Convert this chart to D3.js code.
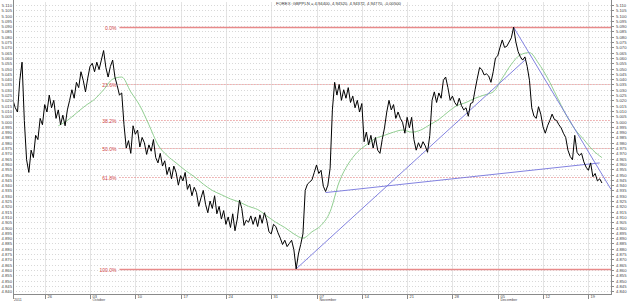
<!DOCTYPE html>
<html>
<head>
<meta charset="utf-8">
<script src="https://cdn.jsdelivr.net/npm/d3@7"></script>
<style>
  body { margin: 0; background: #fff; }
  svg text { font-family: "Liberation Sans", Arial, sans-serif; }
</style>
</head>
<body>
<svg id="chart" width="640" height="302"></svg>
<script>
// ---- data ----
let title = 'FOREX: GBPPLN = 4.94400, 4.94520, 4.94372, 4.94770, -0.00500';

// 4 bars per trading day, first bar = 21 Sep 2011
let barsPerDay = 4;
let price = [
  5.020, 5.013, 5.009, 5.039, 5.056, 5.001, 4.964, 4.952, 4.973, 4.966,
  4.987, 4.983, 5.003, 4.997, 5.016, 5.009, 5.025, 5.013, 5.020, 5.003,
  5.011, 4.997, 5.006, 4.996, 5.011, 5.020, 5.030, 5.022, 5.037, 5.032,
  5.047, 5.039, 5.028, 5.041, 5.052, 5.055, 5.047, 5.056, 5.049, 5.058,
  5.067, 5.051, 5.042, 5.052, 5.058, 5.042, 5.034, 5.025, 5.027, 4.997,
  4.975, 4.982, 4.970, 4.996, 4.988, 4.992, 4.976, 4.985, 4.980, 4.969,
  4.978, 4.972, 4.983, 4.966, 4.961, 4.970, 4.958, 4.963, 4.950, 4.957,
  4.946, 4.958, 4.952, 4.940, 4.949, 4.944, 4.952, 4.936, 4.941, 4.930,
  4.938, 4.933, 4.920, 4.928, 4.935, 4.922, 4.914, 4.925, 4.918, 4.930,
  4.913, 4.920, 4.908, 4.916, 4.903, 4.910, 4.900, 4.913, 4.897, 4.908,
  4.926, 4.918, 4.902, 4.907, 4.905, 4.911, 4.903, 4.910, 4.901, 4.912,
  4.904, 4.914, 4.907, 4.896, 4.894, 4.903, 4.901, 4.895, 4.890, 4.884,
  4.888, 4.882, 4.885, 4.888, 4.879, 4.861, 4.875, 4.884, 4.894, 4.935,
  4.941, 4.943, 4.945, 4.952, 4.959, 4.951, 4.954, 4.939, 4.934, 4.940,
  4.956, 5.011, 5.037, 5.025, 5.035, 5.020, 5.030, 5.022, 5.032, 5.018,
  5.024, 5.013, 5.020, 5.009, 5.017, 4.981, 4.990, 4.978, 4.987, 4.975,
  4.985, 4.973, 4.970, 4.983, 4.994, 5.009, 5.020, 5.011, 5.016, 5.003,
  5.009, 5.003, 4.999, 4.989, 5.004, 4.994, 5.004, 4.983, 4.973, 4.980,
  4.975, 4.981, 4.977, 4.971, 4.987, 5.020, 5.028, 5.018, 5.027, 5.022,
  5.039, 5.042, 5.032, 5.020, 5.024, 5.018, 5.015, 5.022, 5.015, 5.011,
  5.013, 5.005, 5.017, 5.018, 5.030, 5.041, 5.051, 5.049, 5.044, 5.045,
  5.043, 5.037, 5.047, 5.060, 5.062, 5.070, 5.077, 5.070, 5.071, 5.075,
  5.079, 5.089, 5.075, 5.066, 5.061, 5.058, 5.061, 5.052, 5.039, 5.013,
  5.005, 5.003, 5.014, 5.007, 4.995, 4.989, 4.996, 5.001, 5.007, 5.002,
  5.001, 4.997, 4.994, 4.989, 4.985, 4.973, 4.967, 4.964, 4.987, 4.971,
  4.968, 4.970, 4.962, 4.957, 4.954, 4.961, 4.948, 4.951, 4.944, 4.946,
  4.942
];

// moving average, one value per trading day starting at bar 20
let maStart = 20;
let maStep = 4;
let movingAvg = [
  4.996, 5.001, 5.008, 5.015, 5.021, 5.030, 5.040, 5.042, 5.028, 5.015,
  4.997, 4.978, 4.968, 4.961, 4.954, 4.948, 4.941, 4.935, 4.931, 4.927,
  4.924, 4.920, 4.917, 4.911, 4.905, 4.900, 4.894, 4.890, 4.896, 4.902,
  4.915, 4.943, 4.960, 4.971, 4.978, 4.984, 4.987, 4.990, 4.992, 4.990,
  4.992, 4.997, 5.002, 5.009, 5.015, 5.018, 5.022, 5.025, 5.028, 5.041,
  5.054, 5.063, 5.065, 5.055, 5.041, 5.024, 5.007, 4.993, 4.983, 4.973,
  4.966
];

// trend lines: [bar from, price from, bar to, price to]
let trendLines = [
  [125, 4.861, 226, 5.058],
  [138, 4.933, 259, 4.961],
  [221, 5.089, 264, 4.936]
];

// fibonacci retracement
let fibHigh = 5.089;
let fibLow = 4.861;
let fibStartBar = 47;
let fibLevels = [0, 23.6, 38.2, 50, 61.8, 100];

// x axis (trading days from start)
let dayTicks = [3.5, 8.5, 13.5, 18.5, 23.5, 28.5, 33.5, 38.5, 43.5, 48.5, 53.5, 58.5, 63.5];
let dayLabels = ['26', '03', '10', '17', '24', '31', '07', '14', '21', '28', '05', '12', '19'];
let monthLabels = ['', 'October', '', '', '', '', 'November', '', '', '', 'December', '', ''];
let yearLabel = '2011';
let totalDays = 66;

// y axis
let yMin = 4.8373, yMax = 5.1128;
let yTickFrom = 4.840, yTickTo = 5.110, yTickStep = 0.005;

// ---- drawing ----
let plotLeft = 13, plotRight = 611, plotTop = 2, plotBottom = 294;
let svg = d3.select('#chart');

let x = d3.scaleLinear().domain([0, totalDays * barsPerDay]).range([plotLeft, plotRight]);
let y = d3.scaleLinear().domain([yMin, yMax]).range([plotBottom, plotTop]);

let yTicks = d3.range(Math.round((yTickTo - yTickFrom) / yTickStep) + 1)
  .map(function (i) { return +(yTickFrom + i * yTickStep).toFixed(3); });

// vertical grid
svg.append('g')
  .selectAll('line')
  .data(dayTicks)
  .enter().append('line')
  .attr('x1', d => Math.round(x(d * barsPerDay)) + 0.5)
  .attr('x2', d => Math.round(x(d * barsPerDay)) + 0.5)
  .attr('y1', plotTop).attr('y2', plotBottom)
  .attr('stroke', '#e4e4e4');

// horizontal dotted grid
svg.append('g')
  .selectAll('line')
  .data(yTicks)
  .enter().append('line')
  .attr('x1', plotLeft).attr('x2', plotRight)
  .attr('y1', d => Math.round(y(d)) + 0.5)
  .attr('y2', d => Math.round(y(d)) + 0.5)
  .attr('stroke', '#d8d8d8')
  .attr('stroke-dasharray', '1,2');

// fibonacci lines
let fib = svg.append('g');
fibLevels.forEach(function (lvl) {
  let v = fibHigh - (fibHigh - fibLow) * lvl / 100;
  let yy = Math.round(y(v)) + 0.5;
  let solid = lvl === 0 || lvl === 100;
  fib.append('line')
    .attr('x1', x(fibStartBar)).attr('x2', plotRight)
    .attr('y1', yy).attr('y2', yy)
    .attr('stroke', solid ? '#e88a8a' : '#e07070')
    .attr('stroke-width', solid ? 1.3 : 1)
    .attr('stroke-dasharray', solid ? null : '1,2');
  fib.append('text')
    .attr('x', x(fibStartBar) - 3)
    .attr('y', yy + 2)
    .attr('text-anchor', 'end')
    .attr('font-size', 5)
    .attr('fill', '#d04040')
    .text(lvl.toFixed(1) + '%');
});

// moving average
svg.append('path')
  .datum(movingAvg)
  .attr('fill', 'none')
  .attr('stroke', '#84c884')
  .attr('stroke-width', 0.9)
  .attr('d', d3.line()
    .curve(d3.curveMonotoneX)
    .x((d, i) => x(maStart + i * maStep))
    .y(d => y(d)));

// trend lines
svg.append('g')
  .selectAll('line')
  .data(trendLines)
  .enter().append('line')
  .attr('x1', d => x(d[0])).attr('y1', d => y(d[1]))
  .attr('x2', d => x(d[2])).attr('y2', d => y(d[3]))
  .attr('stroke', '#7474dc')
  .attr('stroke-width', 0.9);

// price
svg.append('path')
  .datum(price)
  .attr('fill', 'none')
  .attr('stroke', '#000')
  .attr('stroke-width', 1)
  .attr('stroke-linejoin', 'round')
  .attr('d', d3.line()
    .x((d, i) => x(i))
    .y(d => y(d)));

// axes frame
let axisCol = '#8a8a8a';
svg.append('line').attr('x1', plotLeft + 0.5).attr('x2', plotLeft + 0.5).attr('y1', 0).attr('y2', plotBottom)
  .attr('stroke', axisCol);
svg.append('line').attr('x1', plotRight + 0.5).attr('x2', plotRight + 0.5).attr('y1', 0).attr('y2', plotBottom)
  .attr('stroke', axisCol);
svg.append('line').attr('x1', plotLeft).attr('x2', plotRight + 1).attr('y1', plotBottom + 0.5).attr('y2', plotBottom + 0.5)
  .attr('stroke', axisCol);

// y labels both sides
let yl = svg.append('g').attr('font-size', 4.2).attr('fill', '#444');
yTicks.forEach(function (t) {
  let yy = Math.round(y(t)) + 0.5;
  yl.append('line').attr('x1', plotRight + 1).attr('x2', plotRight + 3).attr('y1', yy).attr('y2', yy).attr('stroke', axisCol);
  yl.append('text').attr('x', plotRight + 5).attr('y', yy + 1.5).text(t.toFixed(3));
  yl.append('text').attr('x', plotLeft - 1).attr('y', yy + 1.5).attr('text-anchor', 'end').text(t.toFixed(3));
});

// x labels
let xl = svg.append('g').attr('font-size', 4).attr('fill', '#444');
dayTicks.forEach(function (d, i) {
  let xx = Math.round(x(d * barsPerDay)) + 0.5;
  xl.append('line').attr('x1', xx).attr('x2', xx).attr('y1', plotBottom).attr('y2', plotBottom + 5).attr('stroke', axisCol);
  xl.append('text').attr('x', xx + 2).attr('y', plotBottom + 4).text(dayLabels[i]);
  if (monthLabels[i]) xl.append('text').attr('x', xx + 2).attr('y', plotBottom + 7).attr('font-size', 3.6).text(monthLabels[i]);
});
xl.append('line').attr('x1', plotLeft + 0.5).attr('x2', plotLeft + 0.5).attr('y1', plotBottom).attr('y2', plotBottom + 5).attr('stroke', axisCol);
xl.append('text').attr('x', plotLeft + 1).attr('y', plotBottom + 7).attr('font-size', 3.6).text(yearLabel);

// title
svg.append('text')
  .attr('x', 276).attr('y', 5)
  .attr('font-size', 4.2)
  .attr('fill', '#333')
  .text(title);
</script>
</body>
</html>
